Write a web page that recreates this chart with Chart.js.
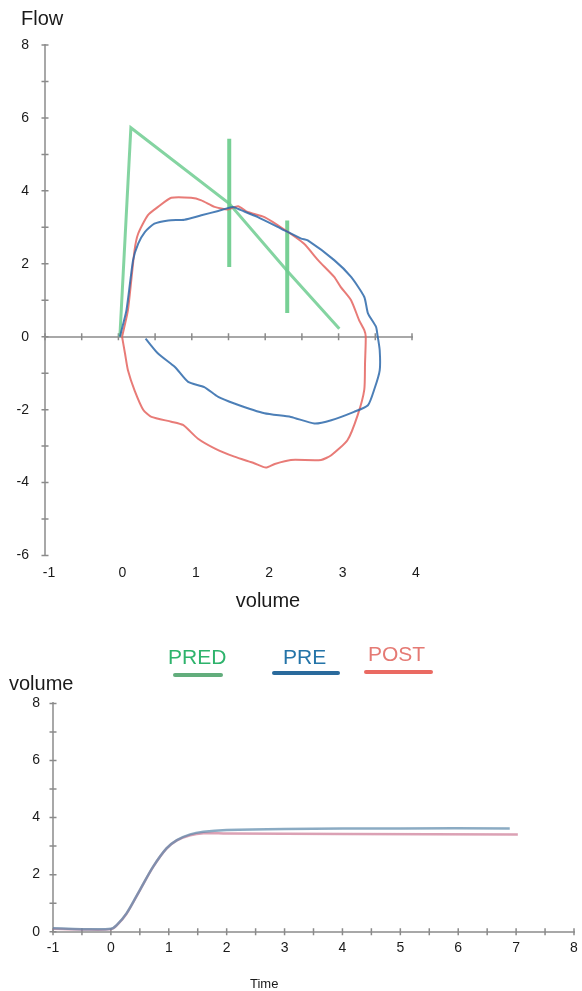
<!DOCTYPE html>
<html>
<head>
<meta charset="utf-8">
<script src="https://cdn.jsdelivr.net/npm/chart.js@4.4.1/dist/chart.umd.min.js"></script>
<style>
html, body { margin: 0; padding: 0; background: #fff; }
body { width: 582px; height: 991px; position: relative; overflow: hidden; font-family: "Liberation Sans", Arial, sans-serif; color: #1a1a1a; }
.box { position: absolute; left: 0; width: 582px; }
#topBox { top: 0; height: 620px; }
#botBox { top: 690px; height: 301px; }
.t { position: absolute; white-space: nowrap; line-height: 1; }
.ln { position: absolute; height: 4px; border-radius: 2px; }
</style>
</head>
<body>
<div class="box" id="topBox"><canvas id="loop"></canvas></div>
<div class="box" id="botBox"><canvas id="curve"></canvas></div>

<div class="t" style="left:21px;top:8px;font-size:20px">Flow</div>
<div class="t" style="left:268px;top:590px;font-size:20px;transform:translateX(-50%)">volume</div>

<div class="t" style="left:168px;top:646px;font-size:21px;color:#2eb36c">PRED</div>
<div class="t" style="left:283px;top:646px;font-size:21px;color:#2474a8">PRE</div>
<div class="t" style="left:368px;top:643px;font-size:21px;color:#e57a74">POST</div>
<div class="ln" style="left:173px;top:673px;width:50px;background:#62ad7c"></div>
<div class="ln" style="left:272px;top:671px;width:68px;background:#2a6a9c"></div>
<div class="ln" style="left:364px;top:670px;width:69px;background:#ea6a62"></div>

<div class="t" style="left:9px;top:673px;font-size:20px">volume</div>
<div class="t" style="left:250px;top:977px;font-size:13px">Time</div>

<script>
// flow-volume loop (volume L, flow L/s)
var predVol = [0.02, 0.17, 1.51, 2.31, 3.01];
var predFlow = [0, 5.73, 3.65, 1.78, 0.22];
var predBarVol = [1.51, 2.30];
var predBarHigh = [5.43, 3.19];
var predBarLow = [1.91, 0.65];

var preVol = [0.02, 0.11, 0.20, 0.27, 0.36, 0.49, 0.68, 0.90, 1.13, 1.36, 1.56, 1.67, 1.90, 2.22, 2.49, 2.58, 2.94, 3.17, 3.35, 3.40, 3.51, 3.53,
	3.56, 3.56, 3.49, 3.40, 3.21, 2.90, 2.67, 2.35, 1.99, 1.58, 1.36, 1.17, 0.95, 0.77, 0.54, 0.37];
var preFlow = [0, 0.73, 2.10, 2.55, 2.87, 3.10, 3.19, 3.21, 3.33, 3.45, 3.56, 3.47, 3.28, 2.96, 2.69, 2.64, 2.10, 1.64, 1.09, 0.64, 0.27, 0.04,
	-0.37, -0.92, -1.42, -1.88, -2.06, -2.29, -2.38, -2.20, -2.10, -1.83, -1.65, -1.38, -1.24, -0.83, -0.46, -0.05];

var postVol = [0.05, 0.13, 0.22, 0.27, 0.40, 0.54, 0.72, 0.99, 1.13, 1.31, 1.49, 1.63, 1.76, 1.99, 2.26, 2.53, 2.72, 2.94, 3.03, 3.17, 3.28, 3.35, 3.37,
	3.36, 3.35, 3.26, 3.12, 2.90, 2.76, 2.35, 2.13, 2.01, 1.85, 1.58, 1.31, 1.08, 0.88, 0.72, 0.45, 0.34, 0.22, 0.13, 0.09, 0.05];
var postFlow = [0, 0.73, 2.37, 2.83, 3.33, 3.56, 3.81, 3.81, 3.74, 3.56, 3.49, 3.58, 3.42, 3.28, 2.94, 2.55, 2.10, 1.64, 1.36, 1.00, 0.45, 0.18, 0,
	-0.73, -1.45, -2.15, -2.84, -3.25, -3.38, -3.38, -3.49, -3.59, -3.47, -3.29, -3.06, -2.79, -2.42, -2.33, -2.20, -2.01, -1.47, -0.92, -0.46, 0];

// volume-time curve (s, L)
var preTime = [-1, -0.5, 0, 0.10, 0.27, 0.50, 0.73, 0.96, 1.14, 1.37, 1.6, 2.0, 3.0, 5.0, 6.89];
var preVolT = [0.12, 0.09, 0.10, 0.23, 0.64, 1.46, 2.28, 2.92, 3.21, 3.41, 3.50, 3.56, 3.60, 3.62, 3.62];
var postTime = [-1, -0.5, 0, 0.10, 0.27, 0.50, 0.73, 0.96, 1.14, 1.37, 1.6, 2.0, 4.0, 7.03];
var postVolT = [0.10, 0.08, 0.09, 0.22, 0.63, 1.45, 2.27, 2.91, 3.20, 3.38, 3.45, 3.44, 3.42, 3.41];

// tick labels
var flowLabels = [8, 6, 4, 2, 0, -2, -4, -6];
var volLabels = [-1, 0, 1, 2, 3, 4];
var timeLabels = [-1, 0, 1, 2, 3, 4, 5, 6, 7, 8];
var volTLabels = [0, 2, 4, 6, 8];

Chart.defaults.font.family = '"Liberation Sans", Arial, sans-serif';
Chart.defaults.font.size = 14;
Chart.defaults.color = '#1a1a1a';

function pts(xs, ys){
	return xs.map((x, i) => ({x: x, y: ys[i]}));
}

function pick(list){
	return v => list.indexOf(Math.round(v * 100) / 100) >= 0 ? String(v) : '';
}

// small crossing tick marks along the axis lines
var crossTicks = {
	id: 'crossTicks',
	beforeDatasetsDraw(chart, args, opts){
		var ctx = chart.ctx;
		ctx.save();
		ctx.strokeStyle = opts.color;
		ctx.lineWidth = 1.5;
		(opts.ids || []).forEach(id => {
			var s = chart.scales[id];
			var pos = s.options.position;
			ctx.beginPath();
			if(s.isHorizontal()){
				var ly = typeof pos === 'object' ? chart.scales.y.getPixelForValue(pos.y) : chart.chartArea.bottom;
				s.ticks.forEach(t => {
					var px = s.getPixelForValue(t.value);
					ctx.moveTo(px, ly - opts.len);
					ctx.lineTo(px, ly + opts.len);
				});
			}else{
				var lx = chart.chartArea.left;
				s.ticks.forEach(t => {
					var py = s.getPixelForValue(t.value);
					ctx.moveTo(lx - opts.len, py);
					ctx.lineTo(lx + opts.len, py);
				});
			}
			ctx.stroke();
		});
		ctx.restore();
	}
};

var lineBase = {showLine: true, pointRadius: 0, fill: false};

var barSets = predBarVol.map((v, i) => Object.assign({
	data: pts([v, v], [predBarLow[i], predBarHigh[i]]),
	borderColor: 'rgba(95,200,130,0.85)',
	borderWidth: 4
}, lineBase));

new Chart(document.getElementById('loop'), {
	type: 'scatter',
	data: {
		datasets: [
			Object.assign({label: 'PRE', data: pts(preVol, preFlow), borderColor: 'rgba(45,105,170,0.85)', borderWidth: 2, tension: 0.2}, lineBase),
			Object.assign({label: 'POST', data: pts(postVol, postFlow), borderColor: 'rgba(228,100,95,0.85)', borderWidth: 2, tension: 0.2}, lineBase),
			Object.assign({label: 'PRED', data: pts(predVol, predFlow), borderColor: 'rgba(110,205,145,0.85)', borderWidth: 3}, lineBase)
		].concat(barSets)
	},
	options: {
		responsive: true,
		maintainAspectRatio: false,
		animation: false,
		events: [],
		layout: {padding: {top: 45, right: 170, left: 0, bottom: 0}},
		plugins: {
			legend: {display: false},
			tooltip: {enabled: false},
			crossTicks: {ids: ['x0', 'y'], len: 3.5, color: '#8a8a8a'}
		},
		scales: {
			x: {
				type: 'linear', min: -1, max: 4,
				grid: {display: false},
				border: {display: false},
				ticks: {stepSize: 1, padding: 1, labelOffset: 4, callback: pick(volLabels)},
				afterFit: s => { s.height = 64.5; }
			},
			x0: {
				type: 'linear', axis: 'x', position: {y: 0}, min: -1, max: 4,
				grid: {display: false},
				border: {display: true, color: '#a8a8a8', width: 2},
				ticks: {display: false, stepSize: 0.5}
			},
			y: {
				type: 'linear', min: -6, max: 8,
				grid: {display: false},
				border: {display: true, color: '#a8a8a8', width: 2},
				ticks: {stepSize: 1, padding: 8, callback: pick(flowLabels)},
				afterFit: s => { s.width = 45; }
			}
		}
	},
	plugins: [crossTicks]
});

new Chart(document.getElementById('curve'), {
	type: 'scatter',
	data: {
		datasets: [
			Object.assign({label: 'PRE', data: pts(preTime, preVolT), borderColor: 'rgba(90,135,170,0.7)', borderWidth: 2.5, tension: 0.3}, lineBase),
			Object.assign({label: 'POST', data: pts(postTime, postVolT), borderColor: 'rgba(200,110,140,0.65)', borderWidth: 2.5, tension: 0.3}, lineBase)
		]
	},
	options: {
		responsive: true,
		maintainAspectRatio: false,
		animation: false,
		events: [],
		layout: {padding: {top: 13, right: 8, left: 0, bottom: 0}},
		plugins: {
			legend: {display: false},
			tooltip: {enabled: false},
			crossTicks: {ids: ['x', 'y'], len: 3.5, color: '#8a8a8a'}
		},
		scales: {
			x: {
				type: 'linear', min: -1, max: 8,
				grid: {display: false},
				border: {display: true, color: '#a8a8a8', width: 2},
				ticks: {stepSize: 0.5, padding: 0, autoSkip: false, maxRotation: 0, callback: pick(timeLabels)},
				afterFit: s => { s.height = 59.3; }
			},
			y: {
				type: 'linear', min: 0, max: 8,
				grid: {display: false},
				border: {display: true, color: '#a8a8a8', width: 2},
				ticks: {stepSize: 1, padding: 5, callback: pick(volTLabels)},
				afterFit: s => { s.width = 53; }
			}
		}
	},
	plugins: [crossTicks]
});
</script>
</body>
</html>
